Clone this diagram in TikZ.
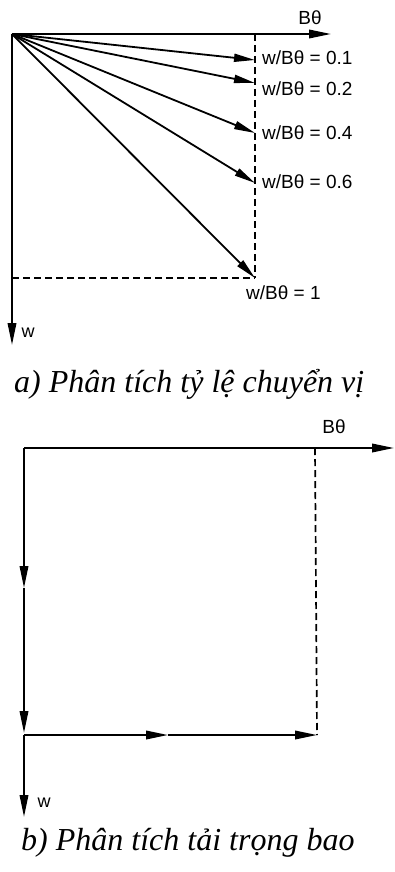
\documentclass[tikz,border=0pt]{standalone}
\usepackage{fontspec}
\setmainfont{Liberation Serif}
\newfontfamily\lblfont{Liberation Sans}
\usetikzlibrary{arrows.meta}
\begin{document}
\begin{tikzpicture}[x=1pt,y=-1pt,
  axis/.style={line width=2pt,-{Triangle[length=22pt,width=8.5pt]}},
  ray/.style={line width=1.8pt,-{Triangle[length=21pt,width=8pt]}},
  guide/.style={line width=1.7pt,dash pattern=on 7pt off 4pt},
  lbl/.style={font=\lblfont\fontsize{19}{19}\selectfont,inner sep=0pt},
  axlbl/.style={font=\lblfont\fontsize{19}{19}\selectfont,inner sep=0pt},
  wlbl/.style={font=\lblfont\fontsize{18}{18}\selectfont,inner sep=0pt},
  captext/.style={font=\itshape\fontsize{32}{32}\selectfont,inner sep=0pt,anchor=base west}]
\useasboundingbox (0,0) rectangle (394,872);
% ---------- a) ----------
\coordinate (O1) at (12,34);
\coordinate (Xa) at (331,34);
\coordinate (Ya) at (12,345);
\coordinate (Ta) at (255,34);
\coordinate (Ba) at (255,278);
\coordinate (La) at (12,278);
\coordinate (R1) at (255,60);
\coordinate (R2) at (255,83);
\coordinate (R4) at (255,133);
\coordinate (R6) at (255,183);
\coordinate (R10) at (255,278);
\draw[guide] (Ta) -- (Ba);
\draw[guide] (La) -- (Ba);
\draw[axis] (O1) -- (Xa);
\draw[axis] (O1) -- (Ya);
\draw[ray] (O1) -- (R1);
\draw[ray] (O1) -- (R2);
\draw[ray] (O1) -- (R4);
\draw[ray] (O1) -- (R6);
\draw[ray] (O1) -- (R10);
\node[axlbl] (bt1) at (310,18) {Bθ};
\node[wlbl] (w1) at (28,333) {w};
\node[lbl,anchor=west] (l1) at (262,58) {w/Bθ = 0.1};
\node[lbl,anchor=west] (l2) at (262,89) {w/Bθ = 0.2};
\node[lbl,anchor=west] (l4) at (262,133) {w/Bθ = 0.4};
\node[lbl,anchor=west] (l6) at (262,182) {w/Bθ = 0.6};
\node[lbl,anchor=west] (l10) at (246,293) {w/Bθ = 1};
\node[captext] (capa) at (14,392) {a) Phân tích tỷ lệ chuyển vị};
% ---------- b) ----------
\coordinate (O2) at (24,448);
\coordinate (Xb) at (394,448);
\coordinate (Tb) at (315,448);
\coordinate (Pb) at (24,735);
\coordinate (Qb) at (317,735);
\coordinate (M1) at (24,588);
\coordinate (M2) at (24,733);
\coordinate (Yb) at (24,817);
\coordinate (H1) at (168,735);
\draw[guide] (Tb) -- (Qb);
\draw[axis] (O2) -- (Xb);
\draw[axis] (O2) -- (M1);
\draw[axis] (M1) -- (M2);
\draw[axis] (Pb) -- (Yb);
\draw[axis] (Pb) -- (H1);
\draw[axis] (H1) -- (Qb);
\node[axlbl] (bt2) at (334,427) {Bθ};
\node[wlbl] (w2) at (44,803) {w};
\node[captext] (capb) at (21,850) {b) Phân tích tải trọng bao};
\end{tikzpicture}
\end{document}
